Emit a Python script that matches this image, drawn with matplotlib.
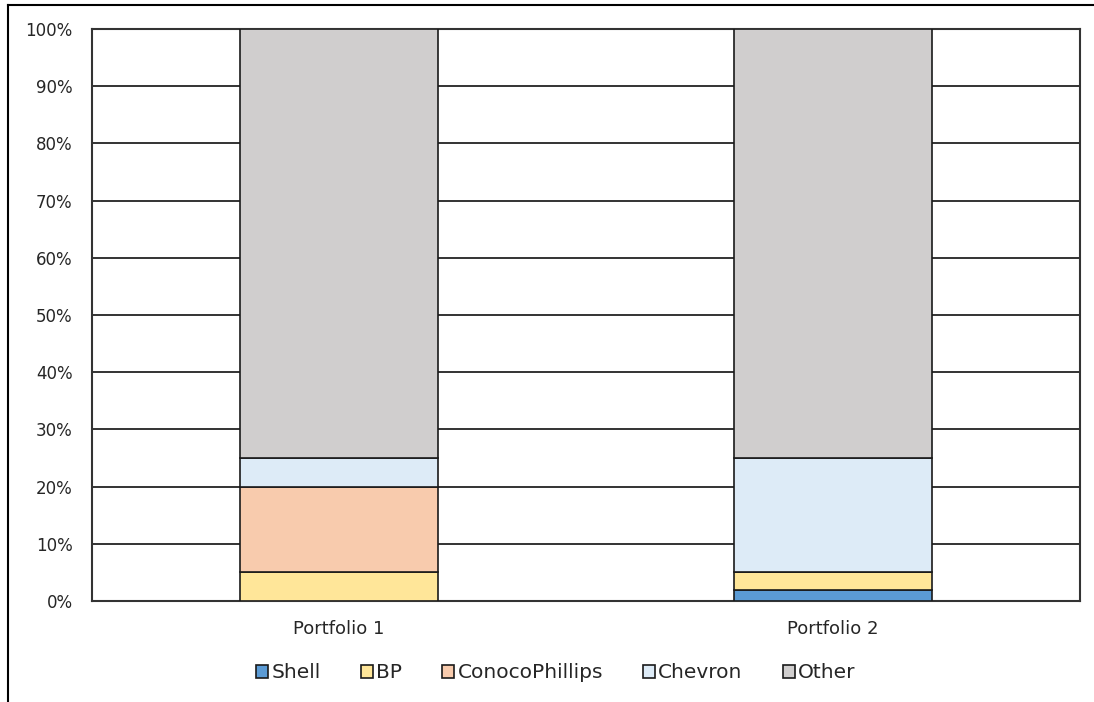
import matplotlib.pyplot as plt
import numpy as np
from matplotlib.lines import Line2D

plt.rcParams['font.family'] = ['DejaVu Sans']

portfolios = ["Portfolio 1", "Portfolio 2"]
companies = ["Shell", "BP", "ConocoPhillips", "Chevron", "Other"]
shell = [0, 2]
bp = [5, 3]
conoco = [15, 0]
chevron = [5, 20]
other = [75, 75]
colors = ["#5b9bd5", "#ffe699", "#f8cbad", "#ddebf7", "#d0cece"]
yticks = np.arange(0, 101, 10)

series = [shell, bp, conoco, chevron, other]

fig = plt.figure(figsize=(10.94, 7.02), dpi=100)
ax = fig.add_axes([92 / 1094, 1 - 601 / 702, 988 / 1094, 572 / 702])

x = np.arange(len(portfolios))
bottom = np.zeros(len(portfolios))
for name, vals, c in zip(companies, series, colors):
    vals = np.array(vals, dtype=float)
    ax.bar(x, vals, 0.4, bottom=bottom, color=c, edgecolor="#1a1a1a",
           linewidth=1.2, label=name, zorder=3)
    bottom += vals

ax.set_xlim(-0.5, 1.5)
ax.set_ylim(0, 100)
ax.set_yticks(yticks)
ax.set_yticklabels([f"{v}%" for v in yticks], fontsize=12, color="#262626")
ax.set_xticks(x)
ax.set_xticklabels(portfolios, fontsize=13, color="#262626")
ax.tick_params(axis="y", length=0, pad=14)
ax.tick_params(axis="x", length=0, pad=14)
ax.yaxis.grid(True, color="#111111", linewidth=1.2, zorder=0)
for s in ax.spines.values():
    s.set_color("#333333")
    s.set_linewidth(1.5)

handles, labels = ax.get_legend_handles_labels()
leg = fig.legend(handles, labels, loc="center", bbox_to_anchor=(556 / 1094, 1 - 673 / 702),
                 ncol=5, frameon=False, fontsize=14.5, handlelength=0.6, handleheight=0.6,
                 handletextpad=0.15, columnspacing=2.0, labelcolor="#262626")

# outer chart border (left and top)
fig.add_artist(Line2D([8 / 1094, 8 / 1094], [0, 1 - 5 / 702], color="black", linewidth=1.5))
fig.add_artist(Line2D([8 / 1094, 1], [1 - 5 / 702, 1 - 5 / 702], color="black", linewidth=1.5))

fig.savefig("out.png", dpi=100)
